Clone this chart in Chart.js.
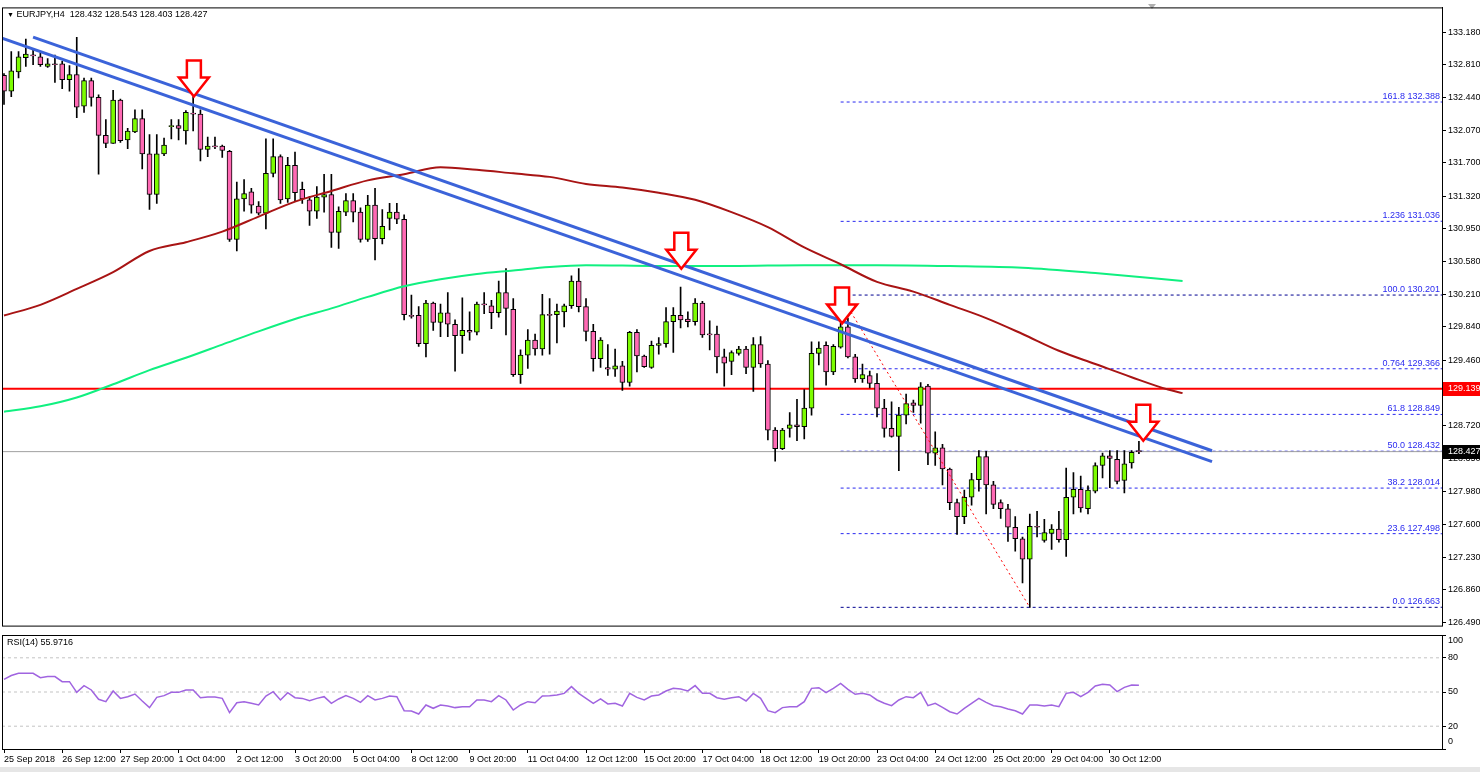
<!DOCTYPE html>
<html>
<head>
<meta charset="utf-8">
<title>EURJPY H4</title>
<script src="https://cdn.jsdelivr.net/npm/chart.js@4.4.1/dist/chart.umd.min.js"></script>
<style>
  html, body { margin: 0; padding: 0; background: #fff; }
  body { width: 1480px; height: 772px; position: relative; overflow: hidden;
         font-family: "Liberation Sans", Arial, sans-serif; }
  #mainWrap { position: absolute; left: 0; top: 0; width: 1480px; height: 633px; }
  #rsiWrap { position: absolute; left: 0; top: 633px; width: 1480px; height: 139px; }
  .txt { position: absolute; font-size: 9px; color: #000; white-space: pre; line-height: 10px; }
  #bottomBar { position: absolute; left: 0; top: 767px; width: 1480px; height: 5px; background: #e6e6e6; }
</style>
</head>
<body>
<div id="mainWrap"><canvas id="mainChart"></canvas></div>
<div id="rsiWrap"><canvas id="rsiChart"></canvas></div>
<div class="txt" style="left:7px;top:9px;"><span style="font-size:7px;">&#9660;</span> EURJPY,H4  128.432 128.543 128.403 128.427</div>
<div class="txt" style="left:7px;top:637px;">RSI(14) 55.9716</div>
<div id="bottomBar"></div>
<script>
// ---- data (EURJPY, H4) ----
const openP = [
  132.69, 132.51, 132.73, 132.89, 132.92, 132.90, 132.79, 132.82, 132.82, 132.64,
  132.70, 132.34, 132.63, 132.44, 132.01, 131.92, 132.41, 131.96, 132.05, 132.20,
  131.80, 131.34, 131.80, 132.11, 132.12, 132.06, 132.26, 132.25, 131.85, 131.89,
  131.89, 131.83, 130.83, 131.29, 131.37, 131.21, 131.13, 131.58, 131.77, 131.29,
  131.67, 131.40, 131.28, 131.15, 131.31, 131.34, 130.91, 131.14, 131.27, 131.14,
  130.83, 131.22, 130.84, 131.07, 131.14, 131.06, 129.97, 129.97, 129.65, 130.11,
  129.89, 130.00, 129.87, 129.74, 129.80, 129.78, 130.10, 130.08, 130.00, 130.23,
  130.04, 129.30, 129.52, 129.69, 129.59, 129.98, 129.98, 130.01, 130.08, 130.36,
  130.07, 129.79, 129.48, 129.38, 129.36, 129.40, 129.21, 129.78, 129.51, 129.38,
  129.63, 129.65, 129.90, 129.97, 129.93, 129.90, 130.11, 129.76, 129.76, 129.50,
  129.45, 129.54, 129.59, 129.38, 129.64, 129.42, 128.67, 128.46, 128.69, 128.73,
  128.71, 128.92, 129.54, 129.63, 129.33, 129.61, 129.84, 129.50, 129.25, 129.29,
  129.20, 128.92, 128.69, 128.60, 128.84, 128.98, 128.95, 129.17, 128.41, 128.47,
  128.23, 127.85, 127.69, 127.91, 128.11, 128.37, 128.05, 127.85, 127.78, 127.57,
  127.44, 127.21, 127.58, 127.42, 127.50, 127.55, 127.43, 127.91, 128.00, 127.78,
  127.98, 128.27, 128.38, 128.34, 128.10, 128.30, 128.432
];
const highP = [
  132.71, 132.96, 132.96, 133.10, 132.98, 132.94, 132.88, 132.92, 132.85, 132.80,
  133.12, 132.66, 132.66, 132.47, 132.19, 132.52, 132.42, 132.09, 132.30, 132.30,
  132.02, 132.02, 131.98, 132.19, 132.19, 132.29, 132.45, 132.30, 131.99, 131.99,
  131.90, 131.84, 131.48, 131.51, 131.41, 131.26, 131.97, 131.97, 131.79, 131.76,
  131.82, 131.48, 131.32, 131.43, 131.57, 131.57, 131.20, 131.35, 131.35, 131.19,
  131.33, 131.41, 131.17, 131.24, 131.24, 131.11, 130.20, 130.07, 130.14, 130.12,
  130.10, 130.23, 129.92, 130.17, 130.01, 130.12, 130.23, 130.14, 130.36, 130.50,
  130.16, 129.58, 129.81, 129.76, 130.21, 130.16, 130.10, 130.10, 130.42, 130.50,
  130.16, 129.87, 129.72, 129.64, 129.59, 129.45, 129.79, 129.81, 129.52, 129.68,
  129.72, 130.06, 130.06, 130.29, 130.01, 130.16, 130.13, 129.91, 129.85, 129.59,
  129.57, 129.62, 129.62, 129.72, 129.73, 129.46, 128.70, 128.69, 128.87, 129.02,
  129.13, 129.67, 129.67, 129.67, 129.64, 130.20, 129.94, 129.53, 129.42, 129.34,
  129.31, 129.02, 128.99, 128.93, 129.08, 129.01, 129.21, 129.19, 128.65, 128.51,
  128.24, 127.89, 127.99, 128.18, 128.44, 128.43, 128.09, 127.88, 127.83, 127.69,
  127.46, 127.72, 127.75, 127.66, 127.60, 127.75, 128.24, 128.19, 128.15, 128.04,
  128.30, 128.41, 128.44, 128.44, 128.44, 128.44, 128.543
];
const lowP = [
  132.36, 132.45, 132.66, 132.79, 132.81, 132.79, 132.78, 132.61, 132.54, 132.51,
  132.21, 132.27, 132.34, 131.57, 131.87, 131.92, 131.93, 131.86, 132.04, 131.63,
  131.17, 131.24, 131.78, 131.97, 131.96, 131.91, 132.06, 131.72, 131.77, 131.86,
  131.76, 130.81, 130.70, 131.15, 131.13, 131.11, 130.95, 131.54, 131.24, 131.25,
  131.26, 131.24, 130.99, 131.07, 131.14, 130.74, 130.73, 131.10, 131.03, 130.80,
  130.81, 130.60, 130.78, 130.94, 131.01, 129.92, 129.94, 129.62, 129.50, 129.80,
  129.73, 129.73, 129.34, 129.54, 129.69, 129.75, 129.99, 129.82, 129.95, 129.75,
  129.28, 129.20, 129.37, 129.52, 129.52, 129.53, 129.66, 129.84, 130.05, 130.01,
  129.68, 129.34, 129.38, 129.29, 129.28, 129.12, 129.17, 129.33, 129.38, 129.37,
  129.53, 129.61, 129.55, 129.83, 129.84, 129.86, 129.72, 129.58, 129.32, 129.17,
  129.30, 129.52, 129.31, 129.11, 129.38, 128.56, 128.32, 128.45, 128.59, 128.55,
  128.57, 128.84, 129.41, 129.18, 129.30, 129.60, 129.49, 129.21, 129.21, 129.15,
  128.82, 128.59, 128.59, 128.21, 128.74, 128.87, 128.75, 128.28, 128.27, 128.05,
  127.77, 127.49, 127.61, 127.82, 127.98, 127.72, 127.78, 127.67, 127.41, 127.30,
  126.94, 126.663, 127.46, 127.40, 127.32, 127.40, 127.24, 127.72, 127.74, 127.72,
  127.96, 128.13, 128.02, 128.06, 127.96, 128.24, 128.403
];
const closeP = [
  132.51, 132.74, 132.90, 132.93, 132.91, 132.81, 132.82, 132.81, 132.64, 132.70,
  132.33, 132.63, 132.44, 132.01, 131.92, 132.41, 131.95, 132.06, 132.20, 131.80,
  131.34, 131.80, 131.90, 132.12, 132.09, 132.27, 132.25, 131.85, 131.89, 131.88,
  131.84, 130.83, 131.29, 131.35, 131.22, 131.13, 131.58, 131.77, 131.28, 131.67,
  131.36, 131.29, 131.15, 131.31, 131.34, 130.91, 131.15, 131.27, 131.14, 130.83,
  131.22, 130.84, 130.98, 131.14, 131.06, 129.98, 129.96, 129.65, 130.11, 129.89,
  130.00, 129.87, 129.74, 129.80, 129.78, 130.10, 130.09, 130.00, 130.23, 130.05,
  129.30, 129.52, 129.69, 129.59, 129.98, 129.97, 130.02, 130.08, 130.36, 130.07,
  129.79, 129.48, 129.69, 129.36, 129.40, 129.21, 129.78, 129.51, 129.39, 129.63,
  129.65, 129.90, 129.97, 129.92, 129.90, 130.11, 129.75, 129.75, 129.50, 129.43,
  129.55, 129.59, 129.38, 129.64, 129.42, 128.67, 128.46, 128.67, 128.73, 128.71,
  128.92, 129.54, 129.60, 129.33, 129.62, 129.84, 129.50, 129.25, 129.30, 129.20,
  128.92, 128.69, 128.60, 128.84, 128.97, 128.95, 129.16, 128.41, 128.47, 128.23,
  127.85, 127.69, 127.91, 128.11, 128.37, 128.05, 127.83, 127.78, 127.57, 127.44,
  127.21, 127.58, 127.57, 127.51, 127.55, 127.43, 127.91, 128.00, 127.79, 127.99,
  128.27, 128.38, 128.35, 128.09, 128.29, 128.42, 128.427
];

// moving averages (bar index, value) – they run 6 bars past the last candle
const maSlowIdx = [0, 5, 10, 15, 20, 25, 30, 35, 40, 45, 50, 55, 60, 65, 70, 75, 80, 85, 90, 95,
  100, 105, 110, 115, 120, 125, 130, 135, 140, 145, 150, 155, 160, 162];
const maSlowVal = [129.97, 130.09, 130.27, 130.46, 130.70, 130.80, 130.92, 131.09, 131.26, 131.38,
  131.50, 131.57, 131.65, 131.62, 131.58, 131.54, 131.46, 131.42, 131.36, 131.28,
  131.14, 130.97, 130.74, 130.55, 130.35, 130.24, 130.09, 129.94, 129.76, 129.57,
  129.42, 129.27, 129.13, 129.09];
const maLongIdx = [0, 5, 10, 15, 20, 25, 30, 35, 40, 45, 50, 55, 60, 65, 70, 75, 80, 90, 100,
  110, 120, 130, 140, 150, 162];
const maLongVal = [128.88, 128.94, 129.04, 129.19, 129.35, 129.49, 129.64, 129.79, 129.93, 130.05,
  130.18, 130.30, 130.38, 130.44, 130.48, 130.52, 130.54, 130.53, 130.53,
  130.54, 130.54, 130.53, 130.51, 130.45, 130.36];

// descending channel lines (two anchors each)
const trendUpperIdx = [4.0, 166.05];
const trendUpperVal = [133.124, 128.437];
const trendLowerIdx = [-0.275, 166.05];
const trendLowerVal = [133.111, 128.313];

const resistanceLevel = 129.139;
const fibHighIdx = 115;
const fibLowIdx = 141;
const fibLevels = [132.388, 131.036, 130.201, 129.366, 128.849, 128.432, 128.014, 127.498, 126.663];
const fibNames = ['161.8', '1.236', '100.0', '0.764', '61.8', '50.0', '38.2', '23.6', '0.0'];

const arrowIdx = [26.1, 93.1, 115.2, 156.6];
const arrowTip = [132.45, 130.50, 129.88, 128.55];

const rsiValues = [
  61.1, 64.5, 66.4, 66.4, 66.4, 62.6, 63.5, 63.5, 59.1, 59.1,
  49.7, 55.6, 51.8, 43.6, 41.5, 50.9, 44.4, 45.9, 48.2, 42.1,
  36.3, 45.3, 46.8, 49.7, 49.7, 51.8, 51.8, 45.0, 45.6, 45.6,
  44.4, 31.9, 40.6, 41.5, 40.1, 38.6, 46.5, 50.3, 43.0, 49.4,
  45.0, 44.4, 42.4, 44.4, 45.9, 40.1, 43.9, 46.8, 44.4, 40.9,
  46.8, 43.0, 44.4, 46.5, 45.9, 33.6, 33.3, 30.7, 38.6, 35.7,
  38.6, 37.7, 36.3, 37.1, 37.1, 43.0, 43.0, 41.5, 46.8, 43.0,
  34.2, 38.6, 41.5, 40.6, 46.5, 46.8, 47.4, 48.8, 54.7, 48.8,
  44.4, 40.1, 43.9, 39.5, 40.1, 37.7, 48.8, 45.3, 43.0, 46.5,
  47.4, 50.9, 53.2, 52.6, 50.9, 55.6, 48.8, 48.8, 45.0, 43.6,
  45.0, 45.9, 42.1, 48.8, 44.4, 33.6, 31.9, 36.3, 37.1, 37.1,
  41.5, 53.2, 53.8, 49.4, 53.2, 57.6, 52.3, 48.0, 48.8, 47.4,
  43.0, 40.1, 38.0, 43.0, 45.9, 45.0, 49.7, 38.0, 40.1, 36.5,
  32.7, 30.7, 35.7, 40.1, 44.4, 40.9, 38.0, 37.1, 35.1, 33.6,
  30.7, 38.6, 38.6, 37.7, 38.6, 37.1, 48.8, 49.7, 45.9, 49.7,
  55.3, 56.7, 56.1, 50.3, 54.1, 56.1, 55.97
];
const rsiLevels = [20, 50, 80];
const rsiTicks = [0, 20, 50, 80, 100];

const priceTicks = [133.180, 132.810, 132.440, 132.070, 131.700, 131.320, 130.950, 130.580, 130.210,
  129.840, 129.460, 129.090, 128.720, 128.350, 127.980, 127.600, 127.230, 126.860, 126.490];
const xTickStep = 8;
const xTickLabels = ['25 Sep 2018', '26 Sep 12:00', '27 Sep 20:00', '1 Oct 04:00', '2 Oct 12:00',
  '3 Oct 20:00', '5 Oct 04:00', '8 Oct 12:00', '9 Oct 20:00', '11 Oct 04:00', '12 Oct 12:00',
  '15 Oct 20:00', '17 Oct 04:00', '18 Oct 12:00', '19 Oct 20:00', '23 Oct 04:00', '24 Oct 12:00',
  '25 Oct 20:00', '29 Oct 04:00', '30 Oct 12:00'];

// ---- view / style ----
const X_MIN = -0.275, X_MAX = 197.66;
const Y_MIN = 126.456, Y_MAX = 133.460;
const FONT = '"Liberation Sans", Arial, sans-serif';
const BULL = '#7cfc00', BEAR = '#ff69b4';
const lastClose = closeP[closeP.length - 1];

Chart.defaults.font.family = FONT;
Chart.defaults.font.size = 9;
Chart.defaults.color = '#000';

const pts = (xs, ys) => xs.map((x, i) => ({ x: x, y: ys[i] }));
const hline = (v, x0) => [{ x: x0, y: v }, { x: X_MAX, y: v }];
const line = (data, color, width, extra) => Object.assign({
  type: 'line', data: data, borderColor: color, borderWidth: width,
  pointRadius: 0, fill: false, tension: 0
}, extra || {});

const frame = {
  id: 'frame',
  afterDraw(chart) {
    const a = chart.chartArea, ctx = chart.ctx;
    ctx.save();
    ctx.strokeStyle = '#000';
    ctx.lineWidth = 1;
    ctx.strokeRect(a.left + 0.5, a.top + 0.5, a.right - a.left, a.bottom - a.top);
    ctx.restore();
  }
};

function drawArrow(ctx, cx, tipY) {
  const w = 30, h = 36, sw = 14, sh = 17;
  ctx.beginPath();
  ctx.moveTo(cx - sw / 2, tipY - h);
  ctx.lineTo(cx + sw / 2, tipY - h);
  ctx.lineTo(cx + sw / 2, tipY - h + sh);
  ctx.lineTo(cx + w / 2, tipY - h + sh);
  ctx.lineTo(cx, tipY);
  ctx.lineTo(cx - w / 2, tipY - h + sh);
  ctx.lineTo(cx - sw / 2, tipY - h + sh);
  ctx.closePath();
  ctx.fillStyle = '#fff';
  ctx.fill();
  ctx.strokeStyle = '#ff0000';
  ctx.lineWidth = 2.5;
  ctx.stroke();
}

function axisBox(chart, value, bg, fg) {
  const ctx = chart.ctx, y = chart.scales.y.getPixelForValue(value);
  const a = chart.chartArea;
  ctx.save();
  ctx.fillStyle = bg;
  ctx.fillRect(a.right + 1, Math.round(y) - 7, chart.width - a.right - 1, 14);
  ctx.fillStyle = fg;
  ctx.font = '9px ' + FONT;
  ctx.textBaseline = 'middle';
  ctx.fillText(value.toFixed(3), a.right + 6, y);
  ctx.restore();
}

const overlays = {
  id: 'overlays',
  afterDatasetsDraw(chart) {
    const ctx = chart.ctx, xs = chart.scales.x, ys = chart.scales.y, a = chart.chartArea;
    ctx.save();
    ctx.font = '9px ' + FONT;
    ctx.fillStyle = '#2a2af0';
    ctx.textAlign = 'right';
    ctx.textBaseline = 'bottom';
    fibLevels.forEach((v, i) => {
      ctx.fillText(fibNames[i] + ' ' + v.toFixed(3), a.right - 2, ys.getPixelForValue(v) - 1);
    });
    arrowIdx.forEach((ix, i) => drawArrow(ctx, xs.getPixelForValue(ix), ys.getPixelForValue(arrowTip[i])));
    ctx.restore();
  },
  afterDraw(chart) {
    axisBox(chart, resistanceLevel, '#ff0000', '#fff');
    axisBox(chart, lastClose, '#000', '#fff');
    const ctx = chart.ctx;
    ctx.save();
    ctx.fillStyle = '#b0b0b0';
    ctx.beginPath();
    ctx.moveTo(1148, 4); ctx.lineTo(1156, 4); ctx.lineTo(1152, 9); ctx.closePath();
    ctx.fill();
    ctx.restore();
  }
};

const candleIdx = openP.map((_, i) => i);

new Chart(document.getElementById('mainChart'), {
  type: 'bar',
  data: {
    datasets: [
      line(pts(trendUpperIdx, trendUpperVal), '#3b63d9', 3, { order: 0 }),
      line(pts(trendLowerIdx, trendLowerVal), '#3b63d9', 3, { order: 0 }),
      line(pts(maSlowIdx, maSlowVal), '#a81414', 2, { order: 1, cubicInterpolationMode: 'monotone' }),
      line(pts(maLongIdx, maLongVal), '#10f080', 2, { order: 1, cubicInterpolationMode: 'monotone' }),
      line([{ x: fibHighIdx, y: fibLevels[2] }, { x: fibLowIdx, y: fibLevels[8] }], '#ff0000', 1,
        { order: 1, borderDash: [2, 3] }),
      {
        type: 'bar', order: 2, grouped: false, barThickness: 5, minBarLength: 1,
        data: candleIdx.map(i => ({ x: i, y: [openP[i], closeP[i]] })),
        backgroundColor: candleIdx.map(i => closeP[i] >= openP[i] ? BULL : BEAR),
        borderColor: '#000', borderWidth: 1, borderSkipped: false
      },
      {
        type: 'bar', order: 3, grouped: false, barThickness: 1,
        data: candleIdx.map(i => ({ x: i, y: [lowP[i], highP[i]] })),
        backgroundColor: '#000', borderWidth: 0
      },
      line(hline(resistanceLevel, X_MIN), '#ff0000', 2, { order: 4 }),
      line(hline(lastClose, X_MIN), '#a0a0a0', 1, { order: 4 }),
      ...fibLevels.map((v, i) => line(hline(v, fibHighIdx), (i === 2 || i === 8) ? '#000090' : '#2a2af0', 1,
        { order: 4, borderDash: [3, 3] }))
    ]
  },
  options: {
    responsive: true,
    maintainAspectRatio: false,
    animation: false,
    events: [],
    layout: { padding: { left: 2, top: 5, bottom: 2, right: 0 } },
    plugins: { legend: { display: false }, tooltip: { enabled: false } },
    scales: {
      x: { type: 'linear', min: X_MIN, max: X_MAX, offset: false, display: false },
      y: {
        type: 'linear', position: 'right', min: Y_MIN, max: Y_MAX, beginAtZero: false,
        afterBuildTicks: s => { s.ticks = priceTicks.map(v => ({ value: v })); },
        afterFit: s => { s.width = 38; },
        ticks: { callback: v => Number(v).toFixed(3), padding: 2, font: { size: 9 }, color: '#000' },
        grid: { drawOnChartArea: false, tickLength: 4, color: '#000' },
        border: { display: true, color: '#000' }
      }
    }
  },
  plugins: [overlays, frame]
});

const rsiLabels = {
  id: 'rsiLabels',
  afterDraw(chart) {
    const ctx = chart.ctx, ys = chart.scales.y, a = chart.chartArea;
    ctx.save();
    ctx.font = '9px ' + FONT;
    ctx.fillStyle = '#000';
    ctx.textBaseline = 'middle';
    rsiTicks.forEach(v => {
      const y = Math.min(Math.max(ys.getPixelForValue(v), a.top + 6), a.bottom - 7);
      ctx.fillText(String(v), a.right + 6, y);
    });
    ctx.restore();
  }
};

new Chart(document.getElementById('rsiChart'), {
  type: 'line',
  data: {
    datasets: [
      line(rsiValues.map((v, i) => ({ x: i, y: v })), '#a064e0', 1.5, { order: 0 }),
      ...rsiLevels.map(v => line(hline(v, X_MIN), '#c4c4c4', 1, { order: 1, borderDash: [3, 3] }))
    ]
  },
  options: {
    responsive: true,
    maintainAspectRatio: false,
    animation: false,
    events: [],
    layout: { padding: { left: 2, top: 2, bottom: 0, right: 0 } },
    plugins: { legend: { display: false }, tooltip: { enabled: false } },
    scales: {
      x: {
        type: 'linear', min: X_MIN, max: X_MAX, offset: false,
        afterBuildTicks: s => { s.ticks = xTickLabels.map((_, i) => ({ value: i * xTickStep })); },
        afterFit: s => { s.height = 23; },
        ticks: {
          callback: v => xTickLabels[Math.round(v / xTickStep)],
          align: 'start', maxRotation: 0, autoSkip: false, padding: 1, font: { size: 9 }, color: '#000'
        },
        grid: { drawOnChartArea: false, tickLength: 4, color: '#000' },
        border: { display: true, color: '#000' }
      },
      y: {
        type: 'linear', position: 'right', min: 0, max: 100,
        afterBuildTicks: s => { s.ticks = rsiTicks.map(v => ({ value: v })); },
        afterFit: s => { s.width = 38; },
        ticks: { display: false },
        grid: { drawOnChartArea: false, tickLength: 4, color: '#000' },
        border: { display: true, color: '#000' }
      }
    }
  },
  plugins: [rsiLabels, frame]
});
</script>
</body>
</html>
